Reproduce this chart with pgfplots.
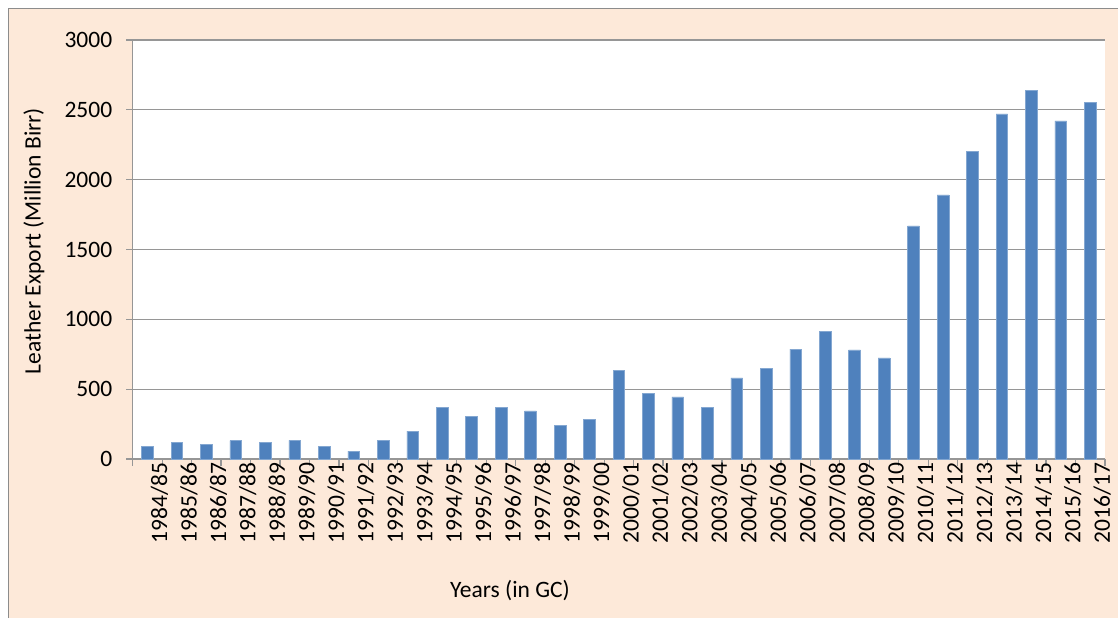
\documentclass[border=0pt]{standalone}
\usepackage{fontspec}
\setmainfont{Carlito}
\usepackage{pgfplots}
\pgfplotsset{compat=1.18}
\definecolor{peach}{HTML}{FDE9D9}
\definecolor{barblue}{HTML}{4F81BD}
\definecolor{axgray}{RGB}{150,150,150}
\definecolor{bordergray}{RGB}{140,140,140}
\begin{document}
\begin{tikzpicture}[x=1pt,y=1pt]
\path[use as bounding box] (0,0) rectangle (1118,-618);
\fill[peach] (8.5,-8.5) rectangle (1118,-618);
\draw[bordergray, line width=1.2pt] (8.5,-618) -- (8.5,-8.5) -- (1118,-8.5);
\begin{axis}[
  at={(132.7pt,-459pt)}, anchor=south west,
  scale only axis, width=972.3pt, height=419pt,
  xmin=-0.5, xmax=32.5, ymin=0, ymax=3000,
  axis lines*=left,
  axis line style={axgray, line width=1.2pt},
  axis background/.style={fill=white},
  ybar, bar width=11.7pt,
  xtick={0,...,32},
  xticklabels={1984/85,1985/86,1986/87,1987/88,1988/89,1989/90,1990/91,1991/92,1992/93,1993/94,1994/95,1995/96,1996/97,1997/98,1998/99,1999/00,2000/01,2001/02,2002/03,2003/04,2004/05,2005/06,2006/07,2007/08,2008/09,2009/10,2010/11,2011/12,2012/13,2013/14,2014/15,2015/16,2016/17},
  ytick={0,500,...,3000},
  minor xtick={-0.5,0.5,...,32.5},
  minor ytick={0,500,...,3000},
  major tick length=0pt, minor tick length=6.5pt,
  tick align=outside,
  tick style={axgray, line width=1.2pt},
  ymajorgrids, grid style={axgray, line width=1.2pt},
  /pgf/number format/assume math mode=true,
  /pgf/number format/1000 sep={},
  tick label style={font=\fontsize{23.5}{27}\selectfont, black},
  xticklabel style={rotate=90, anchor=east, yshift=-12pt},
  yticklabel style={xshift=-17pt},
]
\addplot[fill=barblue, draw=barblue!70!white, line width=0.5pt] coordinates {
(0,93) (1,119) (2,105) (3,131) (4,121) (5,133) (6,90) (7,57) (8,133) (9,200)
(10,370) (11,307) (12,369) (13,345) (14,241) (15,283) (16,633) (17,471) (18,445) (19,371)
(20,581) (21,648) (22,786) (23,914) (24,781) (25,724) (26,1669) (27,1891) (28,2200) (29,2471)
(30,2640) (31,2421) (32,2555)
};
\end{axis}
\node[font=\fontsize{23.5}{27}\selectfont, anchor=center] at (510,-591) {Years (in GC)};
\node[font=\fontsize{23.5}{27}\selectfont, anchor=center, rotate=90] at (34,-241) {Leather Export (Million Birr)};
\end{tikzpicture}
\end{document}
